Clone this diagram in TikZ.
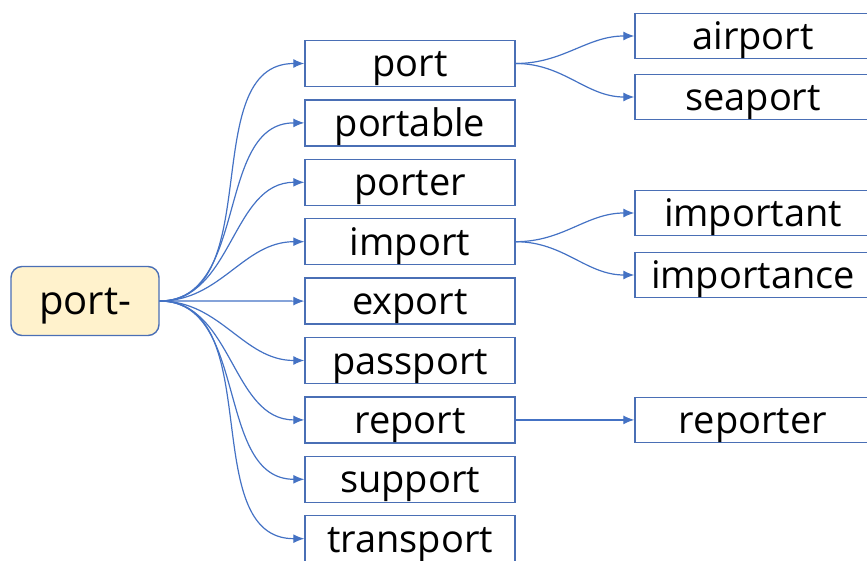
\documentclass[tikz,border=0pt]{standalone}
\usepackage{fontspec}
\setmainfont{Open Sans}
\usetikzlibrary{arrows.meta,positioning}
\definecolor{linkblue}{HTML}{4472C4}
\definecolor{boxline}{HTML}{4A6FB5}
\definecolor{rootfill}{HTML}{FFF2CC}

\begin{document}
\begin{tikzpicture}[x=1pt,y=1pt,>={Latex[length=11pt,width=9pt]},
    word/.style={draw=boxline,line width=1.4pt,minimum width=210pt,minimum height=46pt,
      inner sep=0pt,text height=36pt,text depth=9pt,font=\fontsize{38}{40}\selectfont},
    rootword/.style={word,fill=rootfill,rounded corners=11pt,minimum width=148pt,minimum height=69pt,
      font=\fontsize{40}{42}\selectfont},
    leaf/.style={word,minimum width=236pt,minimum height=45pt},
    link/.style={linkblue,line width=1.2pt,->}]
  \clip (0,0) rectangle (867,-561);

  \node[rootword] (root)      at (85,-301)          {port-};
  \node[word]     (port)      at (410,-63.5)        {port};
  \node[word]     (portable)  [below=12pt of port]     {portable};
  \node[word]     (porter)    [below=12pt of portable] {porter};
  \node[word]     (import)    [below=12pt of porter]   {import};
  \node[word]     (export)    [below=12pt of import]   {export};
  \node[word]     (passport)  [below=12pt of export]   {passport};
  \node[word]     (report)    [below=12pt of passport] {report};
  \node[word]     (support)   [below=12pt of report]   {support};
  \node[word]     (transport) [below=12pt of support]  {transport};

  \node[leaf]     (airport)    at (753,-36)         {airport};
  \node[leaf]     (seaport)    [below=14.6pt of airport]   {seaport};
  \node[leaf]     (important)  at (753,-213)        {important};
  \node[leaf]     (importance) [below=15.6pt of important] {importance};
  \node[leaf]     (reporter)   [right=118.6pt of report]   {reporter};

  \path[link] (root.east) edge[out=0,in=180] (port.west)
                          edge[out=0,in=180] (portable.west)
                          edge[out=0,in=180] (porter.west)
                          edge[out=0,in=180] (import.west)
                          edge[out=0,in=180] (export.west)
                          edge[out=0,in=180] (passport.west)
                          edge[out=0,in=180] (report.west)
                          edge[out=0,in=180] (support.west)
                          edge[out=0,in=180] (transport.west)
              (port.east) edge[out=0,in=180] (airport.west)
                          edge[out=0,in=180] (seaport.west)
              (import.east) edge[out=0,in=180] (important.west)
                          edge[out=0,in=180] (importance.west)
              (report.east) edge (reporter.west);
\end{tikzpicture}
\end{document}
